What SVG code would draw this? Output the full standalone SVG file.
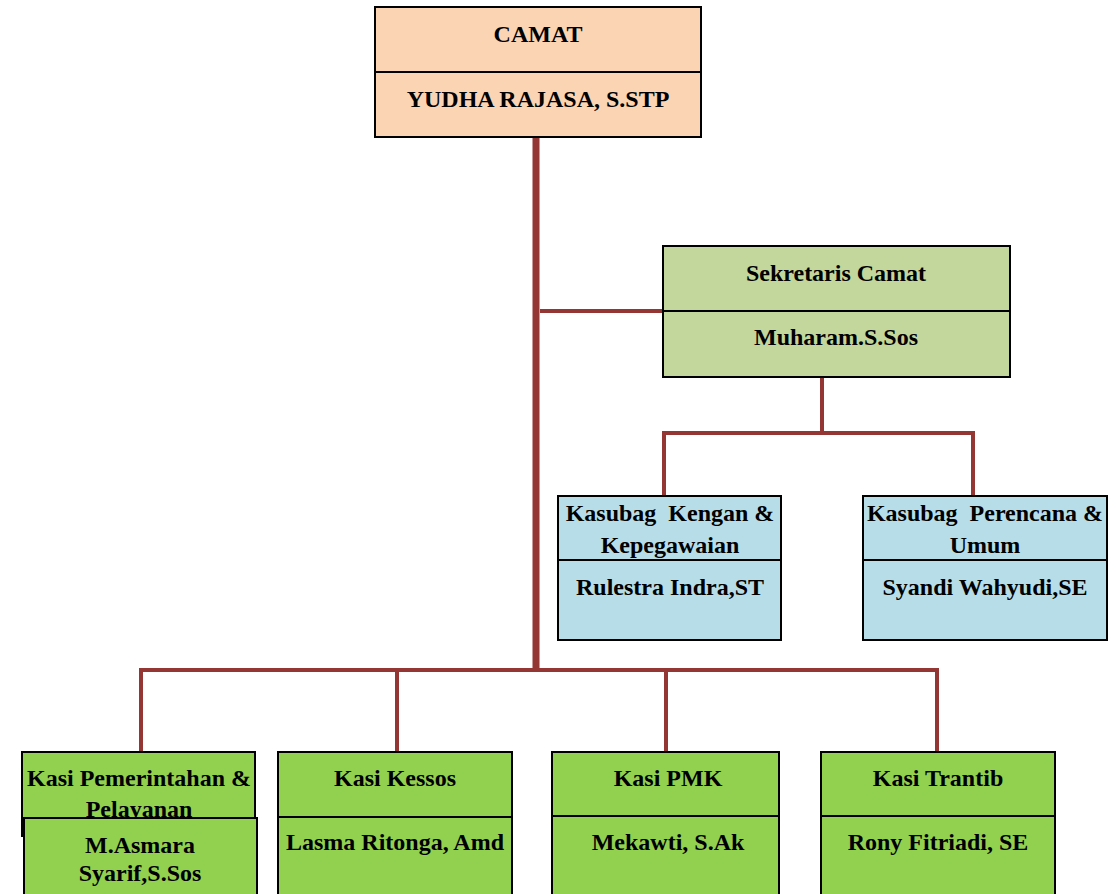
<svg xmlns="http://www.w3.org/2000/svg" width="1116" height="894" viewBox="0 0 1116 894">
<style>
.box{stroke:#000;stroke-width:2}
.camat{fill:#FBD4B4}
.sek{fill:#C3D69B}
.sub{fill:#B7DDE8}
.kasi{fill:#92D050}
.c{fill:none;stroke:#943634;stroke-linecap:butt}
text{font-family:"Liberation Serif","Times New Roman",serif;font-weight:bold;font-size:24px;fill:#000;text-anchor:middle}
</style>
<rect width="1116" height="894" fill="#fff"/>
<g id="connectors">
<line class="c" x1="536" y1="137" x2="536" y2="670" stroke-width="7"/>
<line class="c" x1="540" y1="311" x2="663" y2="311" stroke-width="4"/>
<line class="c" x1="822" y1="377" x2="822" y2="433" stroke-width="4"/>
<polyline class="c" points="664,496 664,433 973,433 973,496" stroke-width="4"/>
<polyline class="c" points="141,752 141,670 937,670 937,752" stroke-width="4"/>
<line class="c" x1="397" y1="670" x2="397" y2="752" stroke-width="4"/>
<line class="c" x1="666" y1="670" x2="666" y2="752" stroke-width="4"/>
</g>
<g id="camat">
<rect class="box camat" x="375" y="7" width="326" height="130"/>
<line x1="375" y1="72" x2="701" y2="72" stroke="#000" stroke-width="2"/>
<text x="538" y="42">CAMAT</text>
<text x="538" y="107">YUDHA RAJASA, S.STP</text>
</g>
<g id="sekretaris">
<rect class="box sek" x="663" y="246" width="347" height="131"/>
<line x1="663" y1="311" x2="1010" y2="311" stroke="#000" stroke-width="2"/>
<text x="836" y="281">Sekretaris Camat</text>
<text x="836" y="345">Muharam.S.Sos</text>
</g>
<g id="kasubag-kengan">
<rect class="box sub" x="558" y="496" width="223" height="144"/>
<line x1="558" y1="560" x2="781" y2="560" stroke="#000" stroke-width="2"/>
<text x="670" y="521" xml:space="preserve">Kasubag  Kengan &amp;</text>
<text x="670" y="553">Kepegawaian</text>
<text x="670" y="595">Rulestra Indra,ST</text>
</g>
<g id="kasubag-perencana">
<rect class="box sub" x="863" y="496" width="244" height="144"/>
<line x1="863" y1="560" x2="1107" y2="560" stroke="#000" stroke-width="2"/>
<text x="985" y="521" xml:space="preserve">Kasubag  Perencana &amp;</text>
<text x="985" y="553">Umum</text>
<text x="985" y="595">Syandi Wahyudi,SE</text>
</g>
<g id="kasi-pemerintahan">
<rect class="box kasi" x="22" y="752" width="233" height="84"/>
<text x="139" y="786">Kasi Pemerintahan &amp;</text>
<text x="139" y="817">Pelayanan</text>
<rect class="box kasi" x="24" y="818" width="233" height="80"/>
<text x="140" y="853">M.Asmara</text>
<text x="140" y="881">Syarif,S.Sos</text>
</g>
<g id="kasi-kessos">
<rect class="box kasi" x="278" y="752" width="234" height="146"/>
<line x1="278" y1="817" x2="512" y2="817" stroke="#000" stroke-width="2"/>
<text x="395" y="786">Kasi Kessos</text>
<text x="395" y="850">Lasma Ritonga, Amd</text>
</g>
<g id="kasi-pmk">
<rect class="box kasi" x="552" y="752" width="227" height="146"/>
<line x1="552" y1="816" x2="779" y2="816" stroke="#000" stroke-width="2"/>
<text x="668" y="786">Kasi PMK</text>
<text x="668" y="850">Mekawti, S.Ak</text>
</g>
<g id="kasi-trantib">
<rect class="box kasi" x="821" y="752" width="234" height="146"/>
<line x1="821" y1="816" x2="1055" y2="816" stroke="#000" stroke-width="2"/>
<text x="938" y="786">Kasi Trantib</text>
<text x="938" y="850">Rony Fitriadi, SE</text>
</g>
</svg>
